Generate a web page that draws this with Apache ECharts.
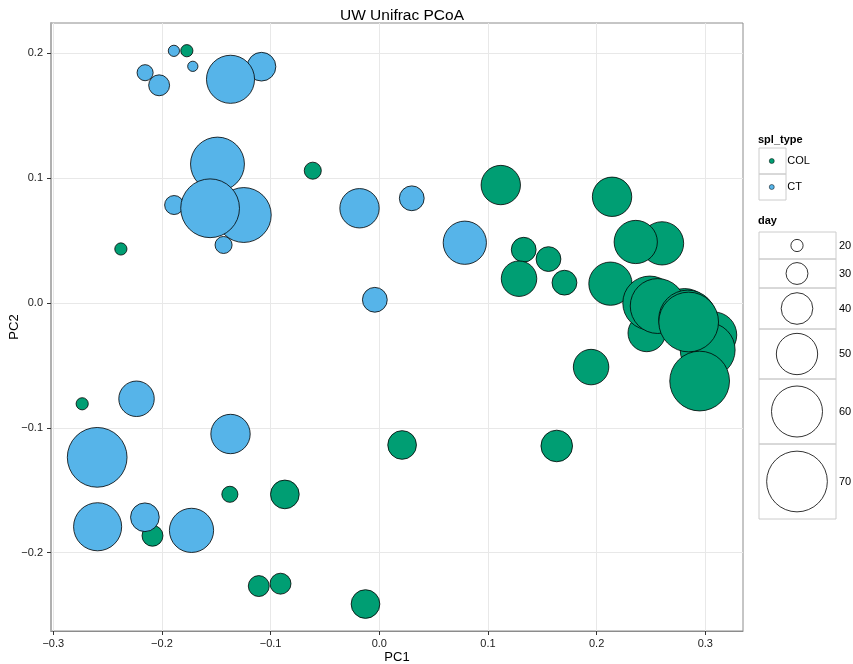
<!DOCTYPE html>
<html><head><meta charset="utf-8">
<script src="https://cdn.jsdelivr.net/npm/echarts@6/dist/echarts.min.js"></script>
<style>html,body{margin:0;padding:0;background:#fff}#chart{width:853px;height:664px}</style>
</head><body><div id="chart"></div>
<script>
// ---- data (PC1, PC2, day) ----
const groups = ['COL', 'CT'];
const colX = [-0.1771, -0.2378, -0.0612, 0.1118, 0.2142, 0.2602, 0.2360, 0.1329, 0.1557, 0.1286, 0.1704, 0.2127, 0.1949,
  0.3077, 0.3022, 0.2810, 0.2461, 0.2489, 0.2562, 0.2838, 0.2847, 0.2948,
  0.0210, 0.1633, -0.1375, -0.0869, -0.2734, -0.2087, -0.1109, -0.0909, -0.0127];
const colY = [0.2021, 0.0433, 0.1060, 0.0945, 0.0851, 0.0478, 0.0489, 0.0427, 0.0352, 0.0195, 0.0163, 0.0155, -0.0513,
  -0.0256, -0.0376, -0.0104, -0.0240, 0.0000, -0.0024, -0.0128, -0.0152, -0.0625,
  -0.1137, -0.1145, -0.1532, -0.1533, -0.0807, -0.1864, -0.2267, -0.2248, -0.2411];
const colDay = [20, 20, 25, 48, 48, 52, 52, 33, 33, 44, 33, 52, 44,
  55, 64, 64, 46, 63, 64, 67, 69, 69,
  37, 40, 24, 37, 20, 29, 29, 29, 37];

const ctX = [-0.1890, -0.1716, -0.2155, -0.2026, -0.1084, -0.1369, -0.1489, -0.1247, -0.1888, -0.1557, -0.1433,
  -0.0182, 0.0299, -0.0041, 0.0787, -0.2234, -0.1369, -0.2596, -0.2592, -0.2157, -0.1728];
const ctY = [0.2020, 0.1896, 0.1845, 0.1744, 0.1893, 0.1792, 0.1113, 0.0705, 0.0785, 0.0759, 0.0465,
  0.0759, 0.0839, 0.0026, 0.0483, -0.0767, -0.1049, -0.1236, -0.1792, -0.1716, -0.1821];
const ctDay = [19, 18, 24, 29, 37, 57, 63, 64, 27, 68, 25,
  48, 33, 33, 52, 44, 48, 69, 57, 37, 53];

const xTicks = [-0.3, -0.2, -0.1, 0, 0.1, 0.2, 0.3];
const yTicks = [-0.2, -0.1, 0, 0.1, 0.2];
const dayBreaks = [20, 30, 40, 50, 60, 70];

// ---- helpers ----
const FONT = 'Liberation Sans, Arial, Helvetica, sans-serif';
const COLORS = { COL: '#009E73', CT: '#56B4E9' };
function sizeOf(day) { return 0.97 * day - 7.2; }
function fmt(v) { return (Math.round(v * 10) / 10).toFixed(1).replace('-', '\u2212'); }
function pts(xs, ys, ds) { return xs.map((x, i) => [x, ys[i], ds[i]]); }

// legend layout (positions only)
const rowTop = [232, 259, 288, 329, 379, 444];
const rowH = [27, 29, 41, 50, 65, 75];
const graphics = [];
graphics.push({ type: 'text', left: 758, top: 134, style: { text: 'spl_type', fontSize: 11, fontWeight: 'bold', fontFamily: FONT, fill: '#000' } });
graphics.push({ type: 'rect', shape: { x: 759, y: 148, width: 27, height: 26 }, style: { fill: 'none', stroke: '#cccccc', lineWidth: 1 } });
graphics.push({ type: 'rect', shape: { x: 759, y: 174, width: 27, height: 26 }, style: { fill: 'none', stroke: '#cccccc', lineWidth: 1 } });
graphics.push({ type: 'text', left: 758, top: 215, style: { text: 'day', fontSize: 11, fontWeight: 'bold', fontFamily: FONT, fill: '#000' } });
dayBreaks.forEach((d, i) => {
  const cy = rowTop[i] + rowH[i] / 2;
  graphics.push({ type: 'rect', shape: { x: 759, y: rowTop[i], width: 77, height: rowH[i] }, style: { fill: 'none', stroke: '#cccccc', lineWidth: 1 } });
  graphics.push({ type: 'circle', shape: { cx: 797, cy: cy, r: sizeOf(d) / 2 }, style: { fill: '#fff', stroke: '#000', lineWidth: 0.8 } });
  graphics.push({ type: 'text', x: 839, y: cy, style: { text: String(d), fontSize: 11, fontFamily: FONT, fill: '#000', verticalAlign: 'middle', align: 'left' } });
});

const chart = echarts.init(document.getElementById('chart'), null, { renderer: 'canvas' });
chart.setOption({
  backgroundColor: '#fff',
  animation: false,
  textStyle: { fontFamily: FONT },
  title: { text: 'UW Unifrac PCoA', left: 397, top: 3, textAlign: 'center',
    textStyle: { fontSize: 15.5, fontWeight: 'normal', color: '#000', fontFamily: FONT } },
  grid: { left: 51, top: 23, right: 110, bottom: 33, containLabel: false, outerBoundsMode: 'none',
    show: true, borderColor: '#8c8c8c', borderWidth: 1, backgroundColor: 'transparent' },
  legend: { data: groups, orient: 'vertical', left: 769, top: 148, padding: 0, itemWidth: 21, itemHeight: 5, itemGap: 0,
    icon: 'circle', selectedMode: false, itemStyle: { borderWidth: 0.5, borderColor: '#000' },
    textStyle: { fontSize: 11, lineHeight: 26, color: '#000', fontFamily: FONT } },
  xAxis: {
    type: 'value', min: -0.3021, max: 0.3347,
    name: 'PC1', nameLocation: 'middle', nameGap: 20, nameMoveOverlap: false,
    nameTextStyle: { fontSize: 13, color: '#000', fontFamily: FONT },
    axisLine: { show: true, onZero: false, lineStyle: { color: '#8c8c8c', width: 1 } },
    axisTick: { show: true, customValues: xTicks, length: 4, lineStyle: { color: '#333' } },
    axisLabel: { customValues: xTicks, formatter: fmt, fontSize: 11, color: '#1a1a1a', margin: 7, fontFamily: FONT },
    splitLine: { show: true, lineStyle: { color: '#e8e8e8', width: 1 } }
  },
  yAxis: {
    type: 'value', min: -0.2627, max: 0.2243,
    name: 'PC2', nameLocation: 'middle', nameGap: 30, nameMoveOverlap: false,
    nameTextStyle: { fontSize: 13, color: '#000', fontFamily: FONT },
    axisLine: { show: true, onZero: false, lineStyle: { color: '#b0b0b0', width: 2 } },
    axisTick: { show: true, customValues: yTicks, length: 4, lineStyle: { color: '#333' } },
    axisLabel: { customValues: yTicks, formatter: fmt, fontSize: 11, color: '#1a1a1a', margin: 8, fontFamily: FONT },
    splitLine: { show: true, lineStyle: { color: '#e8e8e8', width: 1 } }
  },
  graphic: graphics,
  series: [
    { name: 'COL', type: 'scatter', data: pts(colX, colY, colDay), symbol: 'circle',
      symbolSize: v => sizeOf(v[2]), clip: false,
      itemStyle: { color: COLORS.COL, borderColor: '#000', borderWidth: 0.8, opacity: 1 },
      emphasis: { disabled: true } },
    { name: 'CT', type: 'scatter', data: pts(ctX, ctY, ctDay), symbol: 'circle',
      symbolSize: v => sizeOf(v[2]), clip: false,
      itemStyle: { color: COLORS.CT, borderColor: '#000', borderWidth: 0.8, opacity: 1 },
      emphasis: { disabled: true } }
  ]
});
</script>
</body></html>
